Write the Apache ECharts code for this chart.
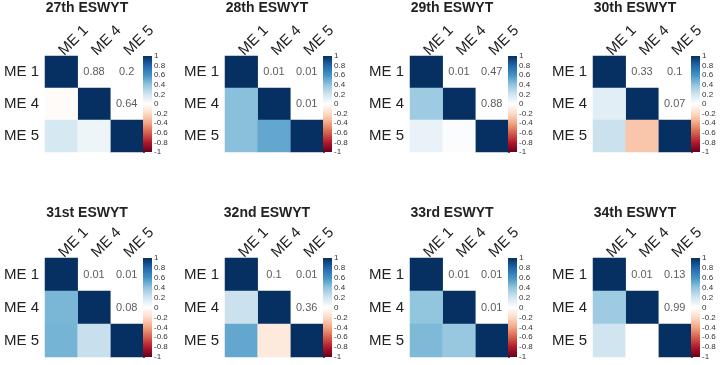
<!DOCTYPE html>
<html>
<head>
<meta charset="utf-8">
<script src="https://cdn.jsdelivr.net/npm/echarts@6/dist/echarts.min.js"></script>
<style>
  html, body { margin: 0; padding: 0; background: #fff; }
  #main { width: 723px; height: 365px; }
</style>
</head>
<body>
<div id="main"></div>
<script>
// variables (rows / columns of every matrix)
var vars = ['ME 1', 'ME 4', 'ME 5'];
var titles = ['27th ESWYT', '28th ESWYT', '29th ESWYT', '30th ESWYT',
              '31st ESWYT', '32nd ESWYT', '33rd ESWYT', '34th ESWYT'];
// lower triangle correlations: [ME4-ME1, ME5-ME1, ME5-ME4]
var corr27 = [-0.02, 0.18, 0.08];
var corr28 = [0.42, 0.42, 0.52];
var corr29 = [0.36, 0.1, 0.02];
var corr30 = [0.13, 0.22, -0.28];
var corr31 = [0.46, 0.47, 0.23];
var corr32 = [0.22, 0.52, -0.12];
var corr33 = [0.4, 0.45, 0.38];
var corr34 = [0.36, 0.2, 0.0];
// upper triangle p-values: [ME1-ME4, ME1-ME5, ME4-ME5]
var p27 = ['0.88', '0.2', '0.64'];
var p28 = ['0.01', '0.01', '0.01'];
var p29 = ['0.01', '0.47', '0.88'];
var p30 = ['0.33', '0.1', '0.07'];
var p31 = ['0.01', '0.01', '0.08'];
var p32 = ['0.1', '0.01', '0.36'];
var p33 = ['0.01', '0.01', '0.01'];
var p34 = ['0.01', '0.13', '0.99'];

var corrs = [corr27, corr28, corr29, corr30, corr31, corr32, corr33, corr34];
var pvals = [p27, p28, p29, p30, p31, p32, p33, p34];

// corrplot RdBu palette, -1 .. 1
var palette = ['#67001F', '#B2182B', '#D6604D', '#F4A582', '#FDDBC7', '#FFFFFF',
               '#D1E5F0', '#92C5DE', '#4393C3', '#2166AC', '#053061'];

var chart = echarts.init(document.getElementById('main'));

var lefts = [45, 225, 410, 593];
var tops = [56, 258];
var heights = [96, 99];
var cellW = 98, barW = 9;
var font = 'Liberation Sans, Arial, sans-serif';

var option = {
    backgroundColor: '#fff',
    animation: false,
    title: [], grid: [], xAxis: [], yAxis: [], visualMap: [], series: []
};

titles.forEach(function (t, i) {
    var col = i % 4, row = Math.floor(i / 4);
    var L = lefts[col], T = tops[row], H = heights[row];
    var g = i * 2;

    option.title.push({
        text: t, left: L + 37, top: row === 0 ? -4 : 201, textAlign: 'center',
        textStyle: { fontSize: 14, fontWeight: 'bold', color: '#222', fontFamily: font }
    });

    // matrix grid
    option.grid.push({ left: L, top: T, width: cellW, height: H });
    // colour bar grid
    option.grid.push({ left: L + cellW, top: T, width: barW, height: H });

    option.xAxis.push({
        type: 'category', data: vars, gridIndex: g, position: 'top',
        axisLine: { show: false }, axisTick: { show: false }, splitLine: { show: false },
        axisLabel: { rotate: -45, margin: 3, fontSize: 15, color: '#222', fontFamily: font }
    });
    option.yAxis.push({
        type: 'category', data: vars, gridIndex: g, inverse: true,
        axisLine: { show: false }, axisTick: { show: false }, splitLine: { show: false },
        axisLabel: { margin: 6, fontSize: 15, color: '#222', fontFamily: font }
    });
    option.xAxis.push({
        type: 'value', gridIndex: g + 1, min: 0, max: 1, show: false
    });
    option.yAxis.push({
        type: 'value', gridIndex: g + 1, min: -1, max: 1, interval: 0.2, position: 'right',
        axisLine: { show: false }, splitLine: { show: false },
        axisTick: { show: true, length: 2, lineStyle: { color: '#555' } },
        axisLabel: { margin: 2, fontSize: 8, color: '#333', fontFamily: font }
    });

    var c = corrs[i];
    var cells = [[0, 0, 1], [1, 1, 1], [2, 2, 1], [0, 1, c[0]], [0, 2, c[1]], [1, 2, c[2]]];
    var p = pvals[i];
    var pcells = [[1, 0, p[0]], [2, 0, p[1]], [2, 1, p[2]]];

    option.visualMap.push({
        type: 'continuous', show: false, min: -1, max: 1, dimension: 2,
        seriesIndex: i * 3, inRange: { color: palette }
    });

    option.series.push({
        type: 'heatmap', xAxisIndex: g, yAxisIndex: g, data: cells,
        itemStyle: { borderWidth: 0 }
    });
    option.series.push({
        type: 'scatter', xAxisIndex: g, yAxisIndex: g, data: pcells, symbolSize: 0,
        label: {
            show: true, position: 'inside', fontSize: 11, color: '#333', fontFamily: font,
            formatter: function (d) { return d.value[2]; }
        }
    });
    option.series.push({
        type: 'custom', xAxisIndex: g + 1, yAxisIndex: g + 1, data: [[0, 1]], clip: false,
        renderItem: function (params, api) {
            var a = api.coord([0, -1]), b = api.coord([1, 1]);
            var stops = palette.map(function (col, k) {
                return { offset: 1 - k / (palette.length - 1), color: col };
            }).reverse();
            return {
                type: 'rect',
                shape: { x: a[0], y: b[1], width: b[0] - a[0], height: a[1] - b[1] },
                style: { fill: new echarts.graphic.LinearGradient(0, 0, 0, 1, stops) }
            };
        }
    });
});

chart.setOption(option);
</script>
</body>
</html>
